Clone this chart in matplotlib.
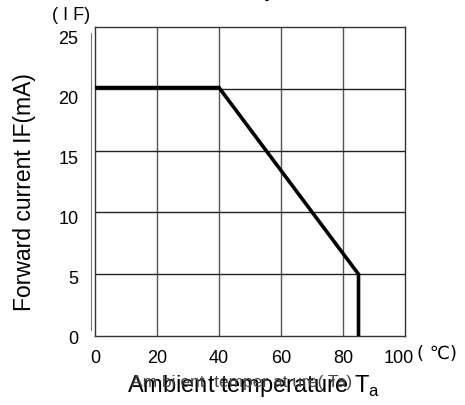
import matplotlib.pyplot as plt
from matplotlib.transforms import ScaledTranslation

# derating curve: forward current vs ambient temperature
temp = [0, 40, 85, 85]
current = [20.1, 20.1, 5, 0]

x_ticks = [0, 20, 40, 60, 80, 100]
x_labels = ['0', '20', '40', '60', '80', '100']
y_ticks = [0, 5, 10, 15, 20, 25]
y_labels = ['0', '5', '10', '15', '20', '25']

plt.rcParams['font.family'] = ['Liberation Sans', 'DejaVu Sans']

fig = plt.figure(figsize=(4.65, 4.05), dpi=100, facecolor='white')
ax = fig.add_axes([95/465, 1 - 336/405, 310/465, 309/405])

ax.plot(temp, current, color='black', lw=2.6, solid_capstyle='butt', solid_joinstyle='miter', zorder=3)

ax.set_xlim(0, 100)
ax.set_ylim(0, 25)
ax.set_xticks(x_ticks)
ax.set_xticklabels(x_labels, fontsize=13)
ax.set_yticks(y_ticks)
ax.set_yticklabels(y_labels, fontsize=13)
ax.tick_params(axis='x', length=0, pad=10)
ax.tick_params(axis='y', length=0, pad=12)
# y labels drift below their grid lines, more so towards the top
for i, lab in enumerate(ax.get_yticklabels()):
    shift = ScaledTranslation(0, -(1 + 1.8 * i) / 100, fig.dpi_scale_trans)
    lab.set_transform(lab.get_transform() + shift)
last = ax.get_xticklabels()[-1]
last.set_transform(last.get_transform() + ScaledTranslation(-6/100, 0, fig.dpi_scale_trans))

for v in [20, 40, 60, 80]:
    ax.axvline(v, color='#555555', lw=1.0, zorder=1)
for v in [5, 10, 15, 20]:
    ax.axhline(v, color='#222222', lw=1.0, zorder=1)
for s in ax.spines.values():
    s.set_linewidth(1.0)
    s.set_color('#333333')

# extra thin axis line left of the frame
ax.plot([-1.3, -1.3], [0.5, 24.5], color='#777777', lw=0.8, clip_on=False)

fig.text(71/465, 1 - 15/405, '( I F)', fontsize=13, ha='center', va='center')
fig.text(437/465, 1 - 354/405, '( \u2103)', fontsize=13, ha='center', va='center',
         family=['DejaVu Sans'])
fig.text(25/465, 1 - 192/405, 'Forward current IF(mA)', fontsize=16.5, rotation=90,
         ha='center', va='center')
fig.text(254/465, 1 - 386/405, 'Ambient temperature T$_\\mathregular{a}$', fontsize=17,
         ha='center', va='center')
fig.text(242/465, 1 - 382/405, 'Am bi ent  temper at ure( Ta)', fontsize=12.5, color='#444444',
         ha='center', va='center')
# title above the figure, only a descender shows
fig.text(218/465, 1 + 4/405, 'Temperature', fontsize=17, fontweight='bold',
         ha='left', va='baseline')

fig.savefig('out.png', dpi=100)
